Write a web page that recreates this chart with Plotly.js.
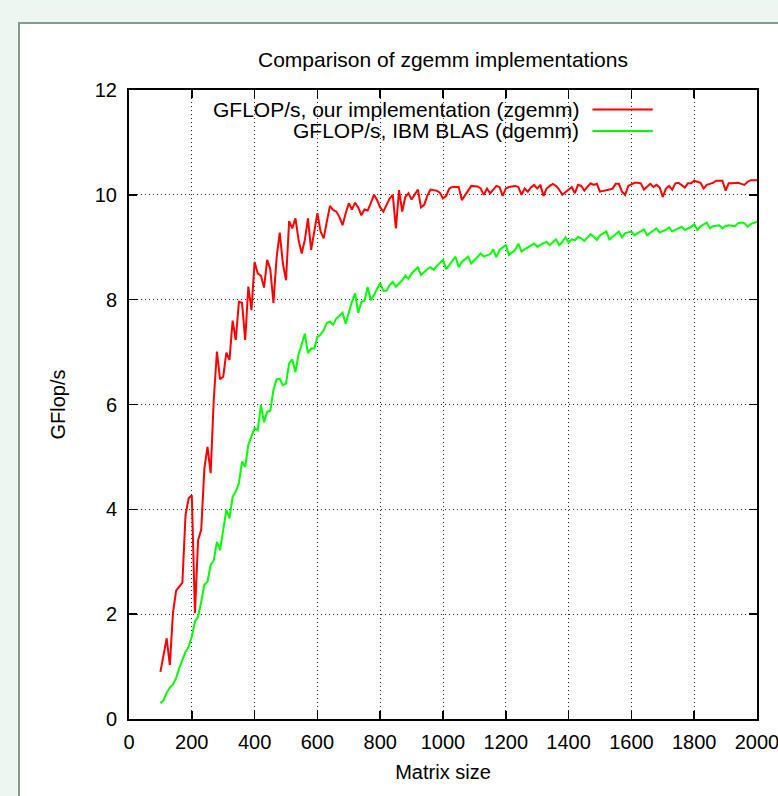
<!DOCTYPE html>
<html>
<head>
<meta charset="utf-8">
<script src="https://cdn.plot.ly/plotly-3.0.1.min.js"></script>
<style>
  html, body { margin: 0; padding: 0; width: 778px; height: 796px; overflow: hidden; background: #eef6f2; font-family: "Liberation Sans", Arial, sans-serif; }
  #panel { position: absolute; left: 18px; top: 22px; width: 800px; height: 800px; background: #ffffff; border: 2px solid #849a8e; }
  #chart { position: absolute; left: 0; top: 0; width: 778px; height: 796px; }
</style>
</head>
<body>
<div id="panel"></div>
<div id="chart"></div>
<script>
// Matrix sizes (x values)
const matrixSize = [
  100,110,120,130,140,150,160,170,180,190,
  200,210,220,230,240,250,260,270,280,290,
  300,310,320,330,340,350,360,370,380,390,
  400,410,420,430,440,450,460,470,480,490,
  500,510,520,530,540,550,560,570,580,590,
  600,610,620,630,640,650,660,670,680,690,
  700,710,720,730,740,750,760,770,780,790,
  800,810,820,830,840,850,860,870,880,890,
  900,910,920,930,940,950,960,970,980,990,
  1000,1010,1020,1030,1040,1050,1060,1070,1080,1090,
  1100,1110,1120,1130,1140,1150,1160,1170,1180,1190,
  1200,1210,1220,1230,1240,1250,1260,1270,1280,1290,
  1300,1310,1320,1330,1340,1350,1360,1370,1380,1390,
  1400,1410,1420,1430,1440,1450,1460,1470,1480,1490,
  1500,1510,1520,1530,1540,1550,1560,1570,1580,1590,
  1600,1610,1620,1630,1640,1650,1660,1670,1680,1690,
  1700,1710,1720,1730,1740,1750,1760,1770,1780,1790,
  1800,1810,1820,1830,1840,1850,1860,1870,1880,1890,
  1900,1910,1920,1930,1940,1950,1960,1970,1980,1990,
  2000
];

// GFLOP/s, our implementation (zgemm)
const zgemmOurs = [
  0.90,1.22,1.54,1.03,2.02,2.45,2.52,2.60,3.89,4.21,
  4.27,2.02,3.41,3.61,4.78,5.19,4.69,6.10,7.01,6.48,
  6.53,6.99,6.85,7.60,7.23,7.96,7.94,7.23,8.25,7.80,
  8.72,8.50,8.46,8.23,8.76,8.58,7.94,8.80,9.28,8.69,
  8.37,9.50,9.36,9.55,9.14,8.88,9.14,9.55,8.95,9.27,
  9.65,9.30,9.17,9.49,9.79,9.71,9.68,9.58,9.42,9.65,
  9.84,9.72,9.85,9.76,9.61,9.72,9.70,9.84,10.00,9.90,
  9.76,9.68,9.81,9.93,10.00,9.36,10.09,9.68,9.96,10.03,
  9.91,10.00,10.10,9.76,9.81,9.98,10.10,10.09,10.08,10.04,
  9.93,9.98,10.12,10.15,10.15,10.15,9.90,9.98,10.08,10.17,
  10.17,10.16,10.12,10.00,10.12,10.03,10.10,10.17,10.15,9.98,
  10.12,10.15,10.16,10.17,10.15,10.00,10.12,10.06,10.14,10.19,
  10.12,10.19,9.98,10.12,10.17,10.21,10.17,10.10,10.00,10.05,
  10.10,10.15,10.03,10.19,10.17,10.08,10.15,10.22,10.19,10.21,
  10.06,10.07,10.08,10.10,10.12,10.21,10.21,10.06,10.00,10.17,
  10.20,10.23,10.23,10.22,10.10,10.15,10.21,10.15,10.19,10.14,
  9.96,10.12,10.17,10.10,10.22,10.23,10.18,10.14,10.22,10.22,
  10.27,10.25,10.23,10.12,10.19,10.21,10.23,10.27,10.27,10.27,
  10.08,10.22,10.22,10.23,10.23,10.21,10.19,10.25,10.28,10.28,
  10.28
];

// GFLOP/s, IBM BLAS (dgemm)
const dgemmIBM = [
  0.30,0.36,0.50,0.60,0.66,0.78,0.97,1.12,1.28,1.38,
  1.57,1.86,1.95,2.24,2.56,2.62,2.94,3.03,3.38,3.22,
  3.61,3.99,3.83,4.24,4.34,4.50,4.91,4.81,5.23,5.39,
  5.55,5.51,5.99,5.66,5.86,5.88,6.28,6.48,6.49,6.37,
  6.40,6.79,6.86,6.62,6.96,7.15,7.35,6.98,7.07,7.07,
  7.29,7.33,7.42,7.56,7.58,7.52,7.64,7.69,7.75,7.54,
  7.77,7.96,8.12,7.75,7.96,7.98,8.24,7.99,8.09,8.20,
  8.32,8.17,8.17,8.28,8.34,8.25,8.31,8.37,8.46,8.40,
  8.50,8.56,8.62,8.47,8.53,8.58,8.62,8.57,8.64,8.70,
  8.76,8.58,8.66,8.74,8.82,8.62,8.72,8.77,8.82,8.69,
  8.76,8.82,8.88,8.82,8.84,8.87,8.96,8.81,8.95,9.00,
  9.04,8.85,8.90,8.95,9.07,8.92,8.96,9.00,9.04,9.07,
  9.01,9.05,9.08,9.10,9.04,9.10,9.15,9.04,9.10,9.19,
  9.09,9.15,9.13,9.20,9.17,9.12,9.18,9.25,9.20,9.14,
  9.23,9.27,9.30,9.15,9.21,9.25,9.30,9.19,9.27,9.28,
  9.30,9.23,9.27,9.30,9.34,9.23,9.28,9.32,9.36,9.28,
  9.31,9.33,9.38,9.30,9.33,9.36,9.39,9.33,9.36,9.39,
  9.44,9.33,9.40,9.43,9.47,9.36,9.40,9.41,9.42,9.36,
  9.40,9.42,9.41,9.40,9.46,9.47,9.46,9.39,9.44,9.47,
  9.49
];

const seriesNames = ["GFLOP/s, our implementation (zgemm)", "GFLOP/s, IBM BLAS (dgemm)"];
const seriesColors = ["#ff0000", "#00ff00"];
const chartTitle = "Comparison of zgemm implementations";
const xTitle = "Matrix size";
const yTitle = "GFlop/s";

const FONT = "Liberation Sans, Arial, Helvetica, sans-serif";

const traces = [
  { x: matrixSize, y: zgemmOurs, name: seriesNames[0], type: "scatter", mode: "lines",
    line: { color: seriesColors[0], width: 2 }, showlegend: false },
  { x: matrixSize, y: dgemmIBM, name: seriesNames[1], type: "scatter", mode: "lines",
    line: { color: seriesColors[1], width: 2 }, showlegend: false }
];

// Manual gnuplot-style key: right-aligned text followed by a line sample
const keyTextX = 0.720, keySampleX0 = 0.738, keySampleX1 = 0.834;
const keyRowY = [0.969, 0.935];

const annotations = seriesNames.map((n, i) => ({
  xref: "paper", yref: "paper", x: keyTextX, y: keyRowY[i],
  xanchor: "right", yanchor: "middle", text: n, showarrow: false,
  font: { family: FONT, size: 21, color: "#000" }
}));

const shapes = [
  { type: "rect", xref: "paper", yref: "paper", x0: 0.062, x1: 0.855, y0: 0.916, y1: 0.988,
    fillcolor: "#ffffff", line: { width: 0 }, layer: "between" }
].concat(seriesNames.map((n, i) => ({
  type: "line", xref: "paper", yref: "paper", x0: keySampleX0, x1: keySampleX1,
  y0: keyRowY[i], y1: keyRowY[i], line: { color: seriesColors[i], width: 2 }, layer: "above"
})));

const axisCommon = {
  showline: true, linecolor: "#000", linewidth: 2, mirror: "ticks",
  ticks: "inside", ticklen: 8, tickwidth: 1.5, tickcolor: "#000",
  showgrid: true, gridcolor: "#222", gridwidth: 1, griddash: "1px,3px",
  zeroline: false, tickfont: { family: FONT, size: 20, color: "#000" },
  ticklabeloverflow: "allow",
  automargin: false
};

const layout = {
  width: 778, height: 796,
  paper_bgcolor: "rgba(0,0,0,0)", plot_bgcolor: "rgba(0,0,0,0)",
  margin: { l: 129, r: 21, t: 90, b: 77, pad: 0 },
  title: { text: chartTitle, x: 0.5, xref: "paper", xanchor: "center", y: 1 - 60/796, yanchor: "middle",
           font: { family: FONT, size: 21, color: "#000" } },
  xaxis: Object.assign({}, axisCommon, {
    range: [0, 2000], tick0: 0, dtick: 200, ticklabelstandoff: 4,
    title: { text: xTitle, standoff: 13, font: { family: FONT, size: 20, color: "#000" } }
  }),
  yaxis: Object.assign({}, axisCommon, {
    range: [0, 12], tick0: 0, dtick: 2, ticklabelstandoff: 6,
    title: { text: yTitle, standoff: 24, font: { family: FONT, size: 20, color: "#000" } }
  }),
  annotations: annotations,
  shapes: shapes,
  showlegend: false
};

Plotly.newPlot("chart", traces, layout, { staticPlot: true, displayModeBar: false });
</script>
</body>
</html>
